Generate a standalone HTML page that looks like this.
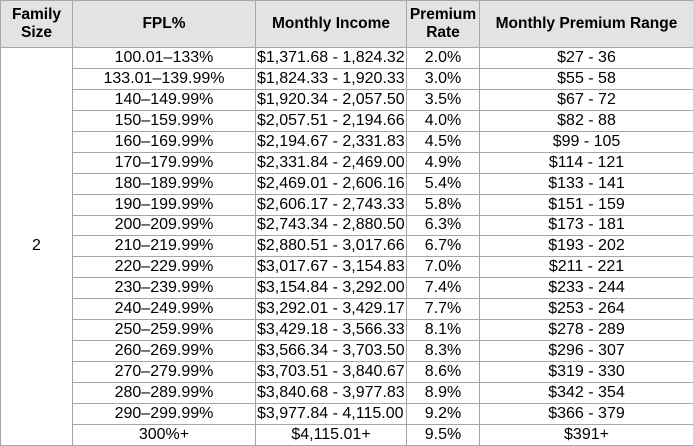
<!DOCTYPE html>
<html><head><style>
html,body{margin:0;padding:0;background:#fff;}
table{border-collapse:collapse;font-family:"Liberation Sans",Arial,sans-serif;font-size:16px;color:#000;table-layout:fixed;width:693px;}
td,th{border:1px solid #a6a6a6;padding:0 1px;line-height:18px;text-align:center;white-space:nowrap;overflow:hidden;}
td{height:19.95px;}
th{background:#e3e3e3;height:46px;font-weight:bold;font-size:15.5px;line-height:18px;}
td.l{text-align:left;}
</style></head><body>
<table>
<colgroup><col style="width:72px"><col style="width:183px"><col style="width:151px"><col style="width:73px"><col style="width:214px"></colgroup>
<tr><th>Family<br>Size</th><th>FPL%</th><th>Monthly Income</th><th>Premium<br>Rate</th><th>Monthly Premium Range</th></tr>
<tr><td rowspan="20">2</td><td>100.01–133%</td><td class="l">$1,371.68 - 1,824.32</td><td>2.0%</td><td>$27 - 36</td></tr>
<tr><td>133.01–139.99%</td><td class="l">$1,824.33 - 1,920.33</td><td>3.0%</td><td>$55 - 58</td></tr>
<tr><td>140–149.99%</td><td class="l">$1,920.34 - 2,057.50</td><td>3.5%</td><td>$67 - 72</td></tr>
<tr><td>150–159.99%</td><td class="l">$2,057.51 - 2,194.66</td><td>4.0%</td><td>$82 - 88</td></tr>
<tr><td>160–169.99%</td><td class="l">$2,194.67 - 2,331.83</td><td>4.5%</td><td>$99 - 105</td></tr>
<tr><td>170–179.99%</td><td class="l">$2,331.84 - 2,469.00</td><td>4.9%</td><td>$114 - 121</td></tr>
<tr><td>180–189.99%</td><td class="l">$2,469.01 - 2,606.16</td><td>5.4%</td><td>$133 - 141</td></tr>
<tr><td>190–199.99%</td><td class="l">$2,606.17 - 2,743.33</td><td>5.8%</td><td>$151 - 159</td></tr>
<tr><td>200–209.99%</td><td class="l">$2,743.34 - 2,880.50</td><td>6.3%</td><td>$173 - 181</td></tr>
<tr><td>210–219.99%</td><td class="l">$2,880.51 - 3,017.66</td><td>6.7%</td><td>$193 - 202</td></tr>
<tr><td>220–229.99%</td><td class="l">$3,017.67 - 3,154.83</td><td>7.0%</td><td>$211 - 221</td></tr>
<tr><td>230–239.99%</td><td class="l">$3,154.84 - 3,292.00</td><td>7.4%</td><td>$233 - 244</td></tr>
<tr><td>240–249.99%</td><td class="l">$3,292.01 - 3,429.17</td><td>7.7%</td><td>$253 - 264</td></tr>
<tr><td>250–259.99%</td><td class="l">$3,429.18 - 3,566.33</td><td>8.1%</td><td>$278 - 289</td></tr>
<tr><td>260–269.99%</td><td class="l">$3,566.34 - 3,703.50</td><td>8.3%</td><td>$296 - 307</td></tr>
<tr><td>270–279.99%</td><td class="l">$3,703.51 - 3,840.67</td><td>8.6%</td><td>$319 - 330</td></tr>
<tr><td>280–289.99%</td><td class="l">$3,840.68 - 3,977.83</td><td>8.9%</td><td>$342 - 354</td></tr>
<tr><td>290–299.99%</td><td class="l">$3,977.84 - 4,115.00</td><td>9.2%</td><td>$366 - 379</td></tr>
<tr><td>300%+</td><td>$4,115.01+</td><td>9.5%</td><td>$391+</td></tr>
</table>
</body></html>
